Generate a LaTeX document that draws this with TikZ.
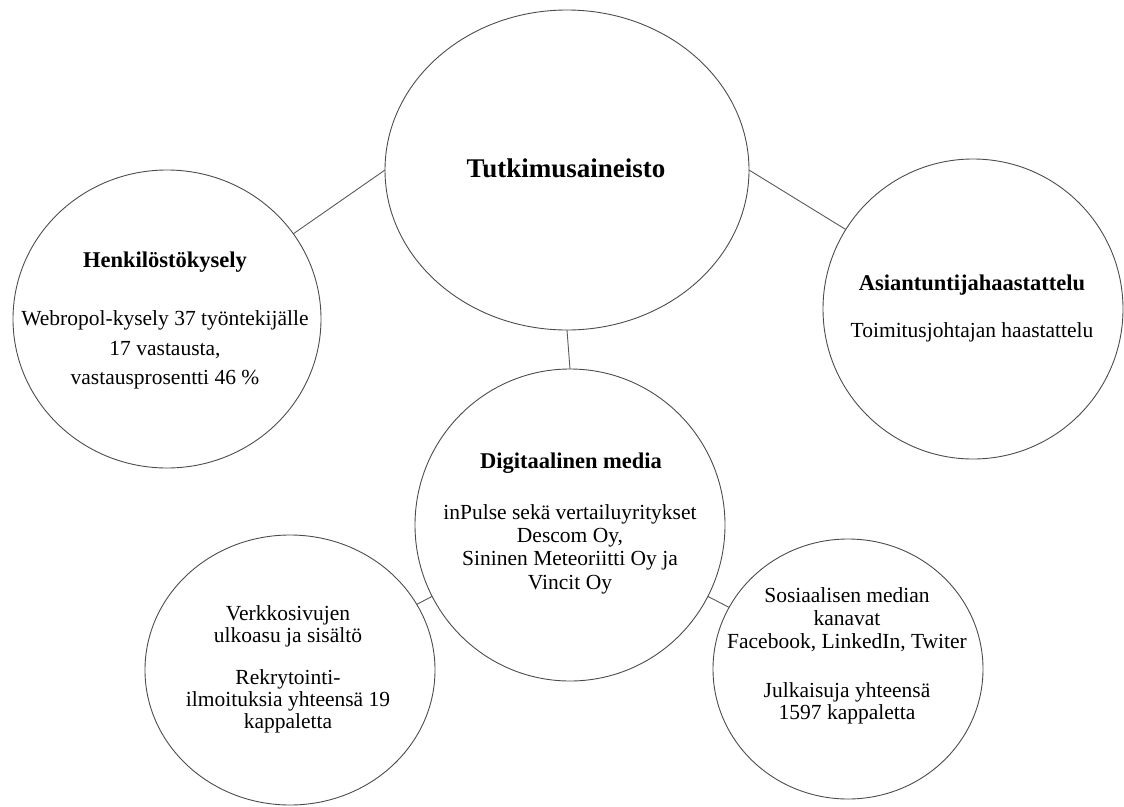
\documentclass[tikz,border=0pt]{standalone}
\usepackage{fontspec}
\setmainfont{Liberation Serif}
\usetikzlibrary{shapes.geometric}
\begin{document}
\begin{tikzpicture}[x=1pt,y=-1pt,
  bubble/.style={draw=black!70, line width=0.9pt, ellipse, inner sep=0pt, outer sep=0pt},
  link/.style={draw=black!65, line width=0.9pt},
  txt/.style={align=center, inner sep=0pt, text=black},
  f/.style={font=\fontsize{21.5}{#1}\selectfont},
  hd/.style={font=\bfseries\fontsize{22.5}{26}\selectfont}]
\useasboundingbox (0,0) rectangle (1124,806);
% circles
\node[bubble, minimum width=364pt, minimum height=320pt] (top) at (567,170) {};
\node[bubble, minimum width=308pt, minimum height=298pt] (hk) at (167,319) {};
\node[bubble, minimum width=300pt, minimum height=300pt] (at) at (973,309) {};
\node[bubble, minimum width=310pt, minimum height=312pt] (dm) at (570,525) {};
\node[bubble, minimum width=290pt, minimum height=270pt] (ws) at (290,670) {};
\node[bubble, minimum width=270pt, minimum height=260pt] (sm) at (848,669) {};
% connectors
\draw[link] (top.180) -- (hk.34);
\draw[link] (top.0) -- (at.148);
\draw[link] (top.270) -- (dm.90);
\draw[link] (dm) -- (ws);
\draw[link] (dm) -- (sm);
% headings
\node[txt, font=\bfseries\fontsize{27}{30}\selectfont] (topt) at (566,168) {Tutkimusaineisto};
\node[txt, hd] (hkh) at (165,262) {Henkilöstökysely};
\node[txt, hd] (ath) at (972,285) {Asiantuntijahaastattelu};
\node[txt, hd] (dmh) at (571,463) {Digitaalinen media};
% bodies
\node[txt, f=29.5] (hkt) at (165,350) {Webropol-kysely 37 työntekijälle\\17 vastausta,\\vastausprosentti 46 \%};
\node[txt, f=23] (att) at (972,332) {Toimitusjohtajan haastattelu};
\node[txt, f=23.3] (dmt) at (570,549) {inPulse sekä vertailuyritykset\\Descom Oy,\\Sininen Meteoriitti Oy ja\\Vincit Oy};
\node[txt, f=22] (wst1) at (288,626) {Verkkosivujen\\ulkoasu ja sisältö};
\node[txt, f=22] (wst2) at (288,701) {Rekrytointi-\\ilmoituksia yhteensä 19\\kappaletta};
\node[txt, f=23] (smt1) at (847,620) {Sosiaalisen median\\kanavat\\Facebook, LinkedIn, Twiter};
\node[txt, f=22] (smt2) at (847,703) {Julkaisuja yhteensä\\1597 kappaletta};
\end{tikzpicture}
\end{document}
